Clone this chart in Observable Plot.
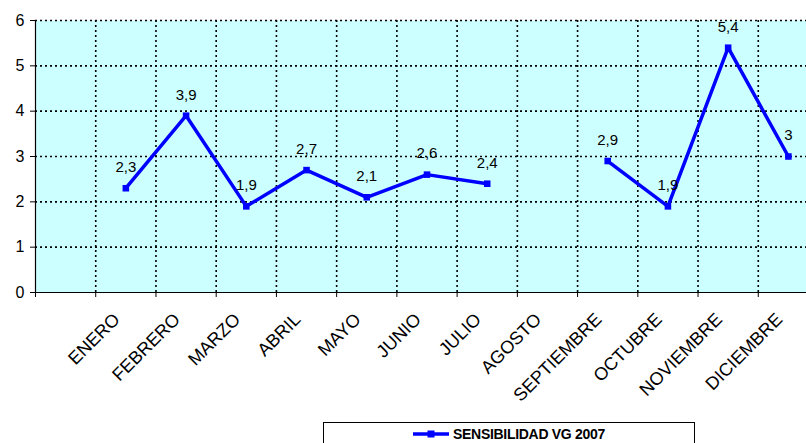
<!DOCTYPE html>
<html>
<head>
<meta charset="utf-8">
<script src="https://cdn.jsdelivr.net/npm/d3@7"></script>
<script src="https://cdn.jsdelivr.net/npm/@observablehq/plot@0.6"></script>
<style>
  body { margin: 0; background: #fff; font-family: "Liberation Sans", Arial, sans-serif; }
  #chart svg { display: block; overflow: hidden; }
  #legend { position: relative; margin-left: 323px; width: 372px; height: 40px; border: 1px solid #000; box-sizing: border-box; }
  #legend svg { position: absolute; left: 89px; top: 6px; }
  #legend span { position: absolute; left: 129px; top: 3px; font-weight: bold; font-size: 14px; letter-spacing: -0.3px; color: #000; white-space: nowrap; }
</style>
</head>
<body>
<div id="chart"></div>
<div id="legend"><svg width="36" height="10"><line x1="0" y1="5" x2="36" y2="5" stroke="#0000FF" stroke-width="3.5"/><rect x="14.5" y="1.5" width="7" height="7" fill="#0000FF"/></svg><span>SENSIBILIDAD VG 2007</span></div>
<script>
const months = ["ENERO","FEBRERO","MARZO","ABRIL","MAYO","JUNIO","JULIO","AGOSTO","SEPTIEMBRE","OCTUBRE","NOVIEMBRE","DICIEMBRE"];
const values = [2.3, 3.9, 1.9, 2.7, 2.1, 2.6, 2.4, null, 2.9, 1.9, 5.4, 3];
const valueLabels = ["2,3","3,9","1,9","2,7","2,1","2,6","2,4","","2,9","1,9","5,4","3"];
const yTicks = [0, 1, 2, 3, 4, 5, 6];
const seriesName = "SENSIBILIDAD VG 2007";

// position index: one empty leading slot, then the twelve months
const data = months.map((m, i) => ({month: m, pos: i + 1.5, value: values[i], label: valueLabels[i]}));
const bounds = d3.range(0, 14);

const font = "Liberation Sans, Arial, sans-serif";
const chart = Plot.plot({
  width: 806,
  height: 422,
  marginLeft: 35,
  marginRight: 0,
  marginTop: 20,
  marginBottom: 130,
  style: {fontFamily: font, background: "#fff"},
  x: {domain: [0, 13], range: [35, 818], label: null},
  y: {domain: [0, 6], label: null},
  marks: [
    Plot.frame({fill: "#CCFFFF", stroke: null}),
    Plot.ruleY(yTicks.filter(d => d > 0), {stroke: "#000", strokeWidth: 1.6, strokeDasharray: "2,3"}),
    Plot.ruleX(bounds.filter(d => d > 0), {stroke: "#000", strokeWidth: 1.6, strokeDasharray: "2,3"}),
    Plot.ruleY([0], {stroke: "#000", strokeWidth: 1.2}),
    Plot.ruleX([0], {stroke: "#000", strokeWidth: 1.2}),
    Plot.axisY({ticks: yTicks, tickSize: 5, tickPadding: 6, fontSize: 16, tickFormat: d => String(d), stroke: "#000", color: "#000", label: null}),
    Plot.axisX({ticks: bounds, tickSize: 5, tickFormat: () => "", stroke: "#000", label: null}),
    Plot.text(data, {x: "pos", y: 0, text: "month", rotate: -45, textAnchor: "end", lineAnchor: "top", dx: -14, dy: 19, fontSize: 18, fill: "#000"}),
    Plot.line(data, {x: "pos", y: "value", stroke: "#0000FF", strokeWidth: 3.5, strokeLinejoin: "miter"}),
    Plot.dot(data.filter(d => d.value != null), {x: "pos", y: "value", symbol: "square", r: 3.7, fill: "#0000FF", stroke: null}),
    Plot.text(data.filter(d => d.value != null), {x: "pos", y: "value", text: "label", dy: -21, fontSize: 15, fill: "#000"})
  ]
});
document.getElementById("chart").appendChild(chart);
</script>
</body>
</html>
